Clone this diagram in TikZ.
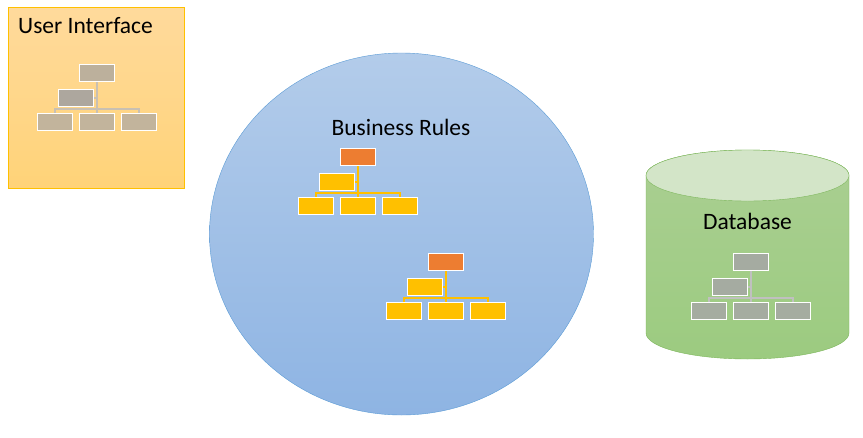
\documentclass[tikz,border=0pt]{standalone}
\usepackage{fontspec}
\setmainfont{Carlito}
\usetikzlibrary{shapes.geometric}
\definecolor{uiedge}{HTML}{FFC000}
\definecolor{uitopfill}{HTML}{FFDA9C}
\definecolor{uibotfill}{HTML}{FFD378}
\definecolor{brtopfill}{HTML}{B3CCEA}
\definecolor{brbotfill}{HTML}{8EB4E3}
\definecolor{bredge}{HTML}{5B9BD5}
\definecolor{dbtopfill}{HTML}{AACF92}
\definecolor{dbbotfill}{HTML}{9CCB80}
\definecolor{dblid}{HTML}{D3E5C8}
\definecolor{dbedge}{HTML}{7CB65A}
\definecolor{uiboss}{HTML}{BCB09C}
\definecolor{uimid}{HTML}{ADA79E}
\definecolor{uileaf}{HTML}{C2B49C}
\definecolor{uiline}{HTML}{C9C0B2}
\definecolor{brboss}{HTML}{ED7D31}
\definecolor{brleaf}{HTML}{FFC000}
\definecolor{dbboss}{HTML}{A5ABA1}
\definecolor{dbleaf}{HTML}{A5ACA0}
\definecolor{dbline}{HTML}{C0C0C0}

\begin{document}
\begin{tikzpicture}[x=1pt, y=-1pt,
    orgbox/.style = {draw=white, line width=1.2pt, minimum width=35pt, minimum height=17pt, inner sep=0pt, anchor=north west},
    label/.style = {font=\fontsize{23.5}{28}\selectfont, text=black}]
    \useasboundingbox (0,0) rectangle (863,437);

    % user interface
    \draw[uiedge, top color=uitopfill, bottom color=uibotfill] (8,7) rectangle (184,188);
    \node[label, anchor=base west, inner sep=0pt] (ui) at (18,33) {User Interface};

    % business rules
    \draw[bredge, top color=brtopfill, bottom color=brbotfill] (401.5,234) ellipse (192 and 181);
    \node[label] (br) at (401,127) {Business Rules};

    % database
    \draw[dbedge, top color=dbtopfill, bottom color=dbbotfill]
        (646,175.5) -- (646,333) arc[start angle=180, end angle=0, x radius=101.5, y radius=26]
        -- (849,175.5) arc[start angle=0, end angle=-180, x radius=101.5, y radius=25.5];
    \draw[dbedge, fill=dblid] (747.5,175.5) ellipse (101.5 and 25.5);
    \node[label] (db) at (747.5,221) {Database};

    % org charts
    \foreach \t/\x/\y/\boss/\mid/\leaf/\line in {ui/79/64/uiboss/uimid/uileaf/uiline,
            bra/340/148/brboss/brleaf/brleaf/brleaf, brb/428/253/brboss/brleaf/brleaf/brleaf,
            db/733/253/dbboss/dbboss/dbleaf/dbline} {
        \node[orgbox, fill=\boss] (\t top) at (\x,\y) {};
        \node[orgbox, fill=\mid] (\t mid) at (\x-21,\y+25) {};
        \node[orgbox, fill=\leaf] (\t a) at (\x-42,\y+49) {};
        \node[orgbox, fill=\leaf] (\t b) at (\x,\y+49) {};
        \node[orgbox, fill=\leaf] (\t c) at (\x+42,\y+49) {};
        \coordinate (\t bar) at (\x+17.5,\y+45);
        \draw[\line, line width=1.3pt] (\t top.south) -- (\t b.north);
        \draw[\line, line width=1.3pt] (\t mid.east) -- (\t top.south |- \t mid.east);
        \draw[\line, line width=1.3pt] (\t a.north) |- (\t bar) -| (\t c.north);
    }
\end{tikzpicture}
\end{document}
